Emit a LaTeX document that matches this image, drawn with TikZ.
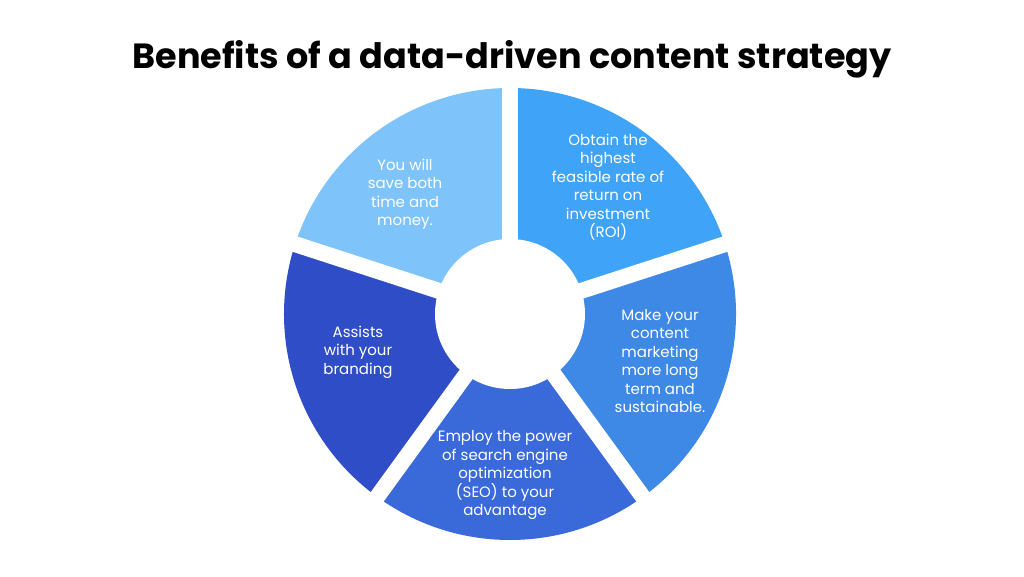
\documentclass[tikz,border=0pt]{standalone}
\usepackage{fontspec}
\setmainfont{Poppins}
\begin{document}
\begin{tikzpicture}[x=1pt,y=1pt,
  lab/.style={text=white,align=center,font=\fontsize{15}{18.5}\selectfont}]
\useasboundingbox (0,0) rectangle (1024,576);
\fill[white] (0,0) rectangle (1024,576);
\node[font=\fontsize{35}{40}\selectfont\bfseries] (title) at (512,517) {Benefits of a data-driven content strategy};
\coordinate (c) at (510,262);
\def\R{226}
\foreach \a/\b/\col in {90/162/7EC3FA, 18/90/3FA3F7, -54/18/3E88E6, -126/-54/3A69DA, 162/234/2F4DC6}{
  \definecolor{segc}{HTML}{\col}
  \fill[segc] (c) -- ++(\a:\R) arc[start angle=\a,end angle=\b,radius=\R] -- cycle;
}
\foreach \g in {90,18,-54,-126,162}
  \draw[white,line width=16] (c) -- ++(\g:240);
\fill[white] (c) circle (75);
\node[lab] (s1) at (405,382) {You will\\save both\\time and\\money.};
\node[lab] (s2) at (608,389) {Obtain the\\highest\\feasible rate of\\return on\\investment\\(ROI)};
\node[lab] (s3) at (660,215) {Make your\\content\\marketing\\more long\\term and\\sustainable.};
\node[lab] (s4) at (505,101) {Employ the power\\of search engine\\optimization\\(SEO) to your\\advantage};
\node[lab] (s5) at (358,224) {Assists\\with your\\branding};
\end{tikzpicture}
\end{document}
